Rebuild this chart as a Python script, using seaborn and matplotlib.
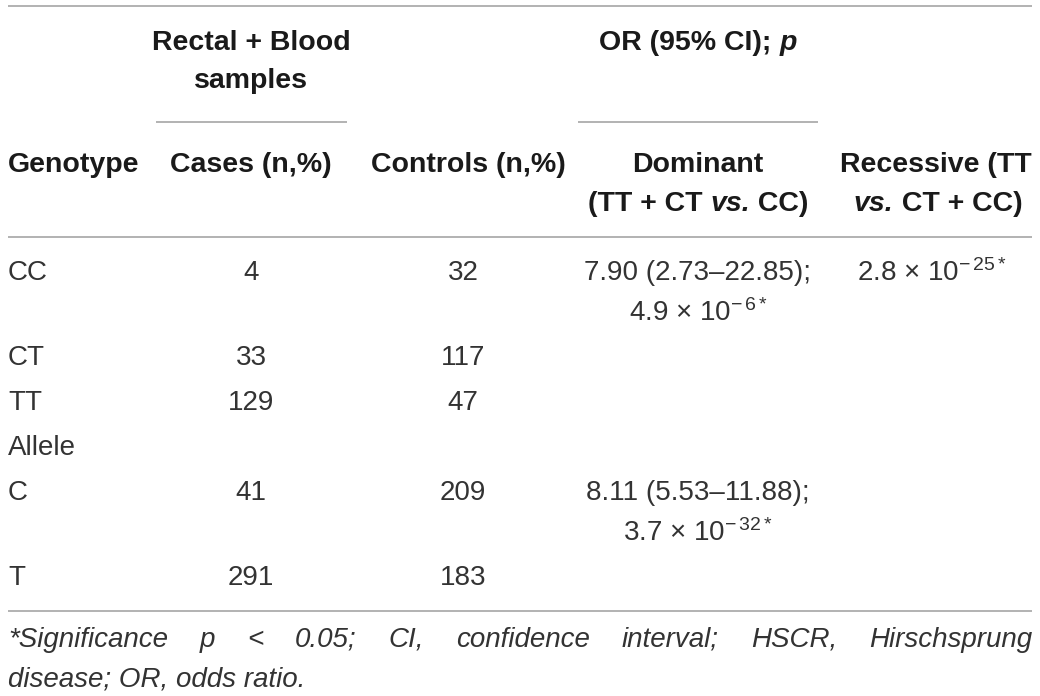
import matplotlib
matplotlib.use("Agg")
import matplotlib.pyplot as plt
import seaborn as sns

# ---------------------------------------------
# Table data
# ---------------------------------------------
genotypes = ["CC", "CT", "TT", "Allele", "C", "T"]
cases = ["4", "33", "129", "", "41", "291"]
controls = ["32", "117", "47", "", "209", "183"]
dominant_or = ["7.90 (2.73–22.85);", "", "", "", "8.11 (5.53–11.88);", ""]
dominant_p = [r"4.9 $\times$ 10$^{-\,6*}$", "", "", "", r"3.7 $\times$ 10$^{-\,32*}$", ""]
recessive_p = [r"2.8 $\times$ 10$^{-\,25*}$", "", "", "", "", ""]

footnote_1 = ["*Significance", "p", "<", "0.05;", "CI,", "confidence",
              "interval;", "HSCR,", "Hirschsprung"]
footnote_2 = "disease; OR, odds ratio."

# ---------------------------------------------
# Style
# ---------------------------------------------
sns.set_theme(style="white")
plt.rcParams["font.family"] = ["Liberation Sans", "DejaVu Sans"]
plt.rcParams["mathtext.fontset"] = "custom"
plt.rcParams["mathtext.rm"] = "Liberation Sans"
plt.rcParams["mathtext.it"] = "Liberation Sans:italic"
plt.rcParams["mathtext.bf"] = "Liberation Sans:bold"

W, H = 1040, 696
FS = 20
FS_HEAD = 20.5
HEAD = "#1a1a1a"
BODY = "#333333"
RULE = "#a6a6a6"

fig = plt.figure(figsize=(W / 100, H / 100), dpi=100)
ax = fig.add_axes([0, 0, 1, 1])
ax.set_xlim(0, W)
ax.set_ylim(H, 0)
ax.axis("off")
renderer = fig.canvas.get_renderer()


def width_of(t):
    return t.get_window_extent(renderer).width


def rich(x, y, parts, ha="center"):
    # parts: list of (text, style) drawn side by side
    texts = []
    for s, style in parts:
        t = ax.text(0, y, s, fontsize=FS_HEAD, fontweight="bold", fontstyle=style,
                    color=HEAD, va="center", ha="left")
        texts.append(t)
    widths = [width_of(t) for t in texts]
    total = sum(widths)
    if ha == "center":
        x0 = x - total / 2
    elif ha == "right":
        x0 = x - total
    else:
        x0 = x
    for t, w in zip(texts, widths):
        t.set_x(x0)
        x0 += w


def rule(x0, x1, y):
    ax.plot([x0, x1], [y, y], color=RULE, lw=1.2, solid_capstyle="butt")


# column centres
col_geno = 8
col_cases = 251
col_ctrl = 463
col_dom = 698
col_rec = 934

# ---------------------------------------------
# Header
# ---------------------------------------------
rule(8, 1032, 6)
rich(col_cases, 43, [("Rectal + Blood", "normal")])
rich(col_cases, 81, [("samples", "normal")])
rule(156, 347, 122)
rich(col_dom, 43, [("OR (95% CI); ", "normal"), ("p", "italic")])
rule(578, 818, 122)

rich(col_geno, 165, [("Genotype", "normal")], ha="left")
rich(col_cases, 165, [("Cases (n,%)", "normal")])
rich(col_ctrl + 5, 165, [("Controls (n,%)", "normal")])
rich(col_dom, 165, [("Dominant", "normal")])
rich(col_dom, 204, [("(TT + CT ", "normal"), ("vs.", "italic"), (" CC)", "normal")])
rich(1032, 165, [("Recessive (TT", "normal")], ha="right")
rich(col_rec + 4, 204, [("vs.", "italic"), (" CT + CC)", "normal")])
rule(8, 1032, 237)

# ---------------------------------------------
# Body rows
# ---------------------------------------------
y = 273
for i, g in enumerate(genotypes):
    ax.text(col_geno, y, g, fontsize=FS, color=BODY, va="center", ha="left")
    ax.text(col_cases, y, cases[i], fontsize=FS, color=BODY, va="center", ha="center")
    ax.text(col_ctrl, y, controls[i], fontsize=FS, color=BODY, va="center", ha="center")
    ax.text(col_dom, y, dominant_or[i], fontsize=FS, color=BODY, va="center", ha="center")
    ax.text(col_dom, y + 40, dominant_p[i], fontsize=FS, color=BODY, va="center", ha="center")
    ax.text(col_rec - 2, y, recessive_p[i], fontsize=FS, color=BODY, va="center", ha="center")
    y += 85 if dominant_p[i] else 45

rule(8, 1032, 611)

# ---------------------------------------------
# Footnote (first line justified)
# ---------------------------------------------
words = [ax.text(0, 640, w, fontsize=FS, fontstyle="italic", color=BODY,
                 va="center", ha="left") for w in footnote_1]
ws = [width_of(t) for t in words]
gap = (1032 - 8 - sum(ws)) / (len(words) - 1)
x = 8
for t, w in zip(words, ws):
    t.set_x(x)
    x += w + gap
ax.text(8, 680, footnote_2, fontsize=FS, fontstyle="italic", color=BODY,
        va="center", ha="left")

fig.savefig("out.png", dpi=100)
